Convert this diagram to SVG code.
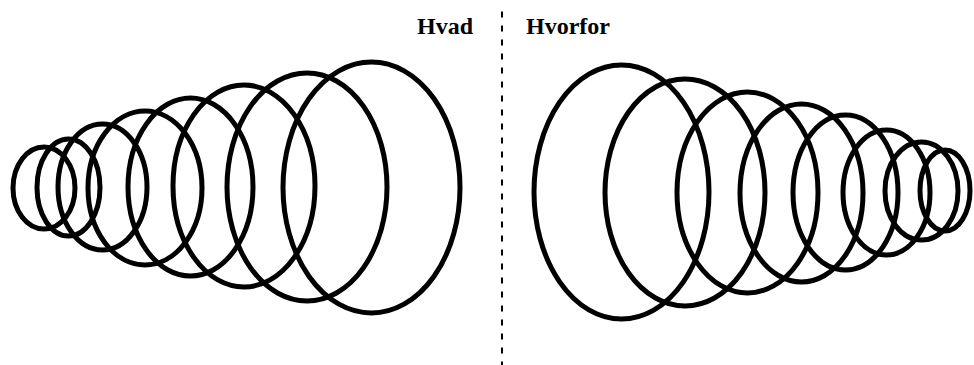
<svg xmlns="http://www.w3.org/2000/svg" width="974" height="365" viewBox="0 0 974 365">
<style>
.r{fill:none;stroke:#000;stroke-width:5}
.t{font-family:"Liberation Serif","Times New Roman",serif;font-weight:bold;font-size:24px;fill:#000}
.d{stroke:#000;stroke-width:2;stroke-dasharray:6 8}
</style>
<rect width="974" height="365" fill="#fff"/>
<g id="labels">
<text class="t" x="417" y="34">Hvad</text>
<text class="t" x="526" y="34">Hvorfor</text>
</g>
<line id="divider" class="d" x1="502" y1="11.5" x2="502" y2="365"/>
<g id="hvad">
<ellipse class="r" cx="44" cy="188" rx="31" ry="41"/>
<ellipse class="r" cx="68.5" cy="187.5" rx="31.5" ry="48.5"/>
<ellipse class="r" cx="102.5" cy="187" rx="44.5" ry="63"/>
<ellipse class="r" cx="145" cy="188" rx="57" ry="77"/>
<ellipse class="r" cx="190.5" cy="187" rx="62.5" ry="89"/>
<ellipse class="r" cx="244" cy="186" rx="71" ry="101"/>
<ellipse class="r" cx="307" cy="187" rx="80" ry="114"/>
<ellipse class="r" cx="371.5" cy="187.5" rx="88.5" ry="125.5"/>
</g>
<g id="hvorfor">
<ellipse class="r" cx="621.5" cy="192" rx="87.5" ry="127"/>
<ellipse class="r" cx="685" cy="192.5" rx="80" ry="113.5"/>
<ellipse class="r" cx="747.5" cy="192.5" rx="70.5" ry="100.5"/>
<ellipse class="r" cx="801.5" cy="193" rx="61.5" ry="89"/>
<ellipse class="r" cx="845.5" cy="192.5" rx="52.5" ry="77.5"/>
<ellipse class="r" cx="886.5" cy="192.5" rx="43.5" ry="62.5"/>
<ellipse class="r" cx="921.5" cy="191" rx="36.5" ry="49"/>
<ellipse class="r" cx="945" cy="190.5" rx="25" ry="40.5"/>
</g>
</svg>
